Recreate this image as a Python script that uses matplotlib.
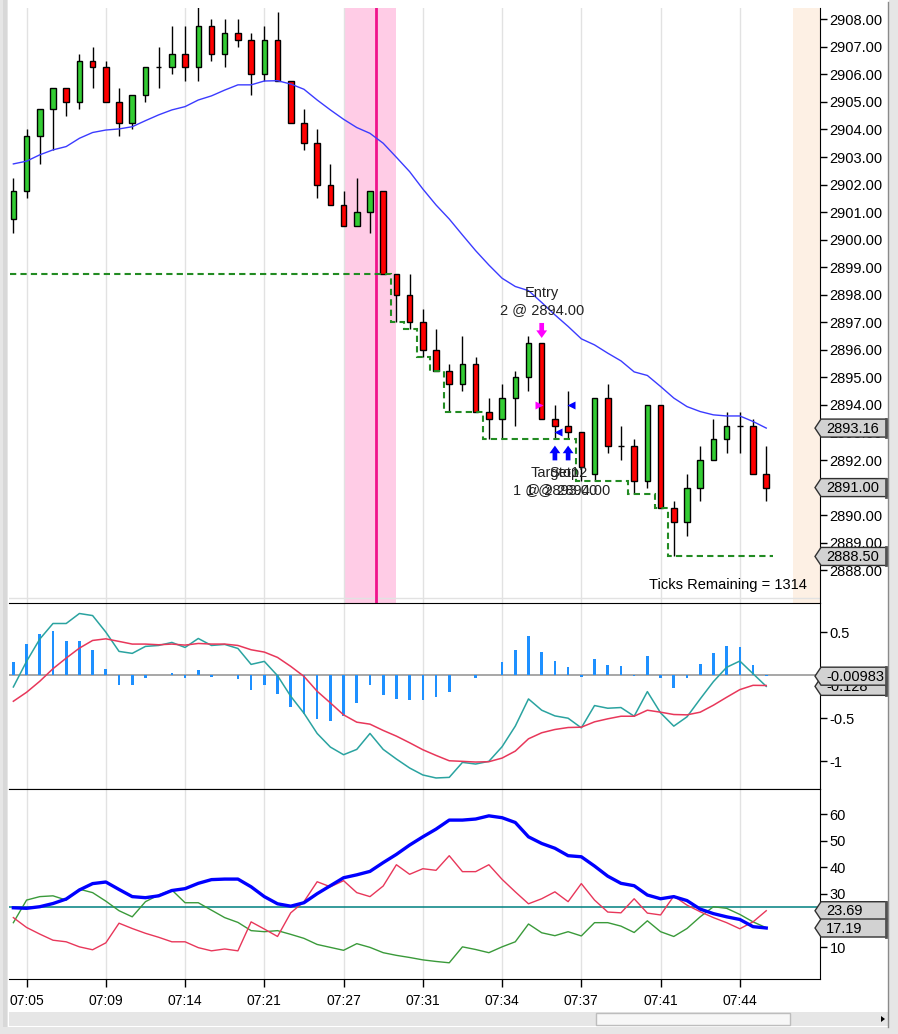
import numpy as np
import matplotlib
matplotlib.use("Agg")
import matplotlib.pyplot as plt
from matplotlib.patches import Rectangle, Polygon
import matplotlib.transforms as mtransforms

plt.rcParams['font.family'] = ['Liberation Sans', 'DejaVu Sans']

# ---------------- data ----------------
opens = [2900.75, 2901.75, 2903.75, 2904.75, 2905.5, 2905.0, 2906.5, 2906.25, 2905.0, 2904.25,
         2905.25, 2906.25, 2906.25, 2906.75, 2906.25, 2907.75, 2906.75, 2907.5, 2907.25, 2906.0,
         2907.25, 2905.75, 2904.25, 2903.5, 2902.0, 2901.25, 2900.5, 2901.0, 2901.75, 2898.75,
         2898.0, 2897.0, 2896.0, 2895.25, 2894.75, 2895.5, 2893.75, 2893.5, 2894.25, 2895.0,
         2896.25, 2893.5, 2893.25, 2893.0, 2891.5, 2894.25, 2892.5, 2892.5, 2891.25, 2894.0,
         2890.25, 2889.75, 2891.0, 2892.0, 2892.75, 2893.25, 2893.25, 2891.5]
highs = [2902.25, 2904.0, 2904.75, 2905.5, 2905.5, 2906.75, 2907.0, 2906.5, 2905.5, 2905.25,
         2906.25, 2907.0, 2907.75, 2907.75, 2908.5, 2908.0, 2908.0, 2908.0, 2907.5, 2907.75,
         2908.25, 2905.75, 2904.75, 2904.0, 2902.75, 2901.75, 2902.25, 2901.75, 2901.75, 2898.75,
         2898.75, 2897.5, 2896.75, 2895.5, 2896.5, 2895.75, 2894.25, 2894.75, 2895.25, 2896.5,
         2896.25, 2894.0, 2894.5, 2893.0, 2894.25, 2894.75, 2893.25, 2892.75, 2894.0, 2894.0,
         2890.5, 2891.5, 2892.5, 2893.5, 2893.75, 2893.75, 2893.5, 2892.5]
lows = [2900.25, 2901.5, 2902.75, 2903.25, 2904.5, 2904.75, 2905.5, 2905.0, 2903.75, 2904.0,
        2905.0, 2905.5, 2906.0, 2905.75, 2905.75, 2906.5, 2906.25, 2907.0, 2905.25, 2905.75,
        2905.75, 2904.25, 2903.25, 2901.5, 2901.25, 2900.5, 2900.5, 2900.25, 2898.75, 2897.0,
        2896.75, 2895.75, 2895.25, 2893.75, 2894.5, 2893.75, 2892.75, 2892.75, 2893.25, 2894.5,
        2893.5, 2892.75, 2892.75, 2891.25, 2891.25, 2892.25, 2892.0, 2890.75, 2891.0, 2890.25,
        2888.5, 2889.25, 2890.5, 2892.0, 2892.25, 2892.25, 2891.5, 2890.5]
closes = [2901.75, 2903.75, 2904.75, 2905.5, 2905.0, 2906.5, 2906.25, 2905.0, 2904.25, 2905.25,
          2906.25, 2906.25, 2906.75, 2906.25, 2907.75, 2906.75, 2907.5, 2907.25, 2906.0, 2907.25,
          2905.75, 2904.25, 2903.5, 2902.0, 2901.25, 2900.5, 2901.0, 2901.75, 2898.75, 2898.0,
          2897.0, 2896.0, 2895.25, 2894.75, 2895.5, 2893.75, 2893.5, 2894.25, 2895.0, 2896.25,
          2893.5, 2893.25, 2893.0, 2891.75, 2894.25, 2892.5, 2892.5, 2891.25, 2894.0, 2890.25,
          2889.75, 2891.0, 2892.0, 2892.75, 2893.25, 2893.25, 2891.5, 2891.0]
ema = [2902.75, 2902.85, 2903.08, 2903.26, 2903.38, 2903.68, 2903.89, 2903.98, 2904.02, 2904.10,
       2904.32, 2904.53, 2904.71, 2904.83, 2905.07, 2905.22, 2905.43, 2905.62, 2905.62, 2905.76,
       2905.77, 2905.65, 2905.46, 2905.07, 2904.71, 2904.37, 2904.07, 2903.86, 2903.50, 2902.99,
       2902.47, 2901.84, 2901.26, 2900.75, 2900.17, 2899.60, 2899.08, 2898.60, 2898.30, 2898.15,
       2897.72, 2897.27, 2896.85, 2896.40, 2896.18, 2895.88, 2895.60, 2895.20, 2895.07, 2894.67,
       2894.25, 2893.94, 2893.76, 2893.64, 2893.60, 2893.60, 2893.40, 2893.16]
stop = [2898.75] * 29 + [2897.0, 2896.75, 2895.75, 2895.25] + [2893.75] * 3 + [2892.75] * 7 + \
       [2891.25] * 4 + [2890.75] * 2 + [2890.25] + [2888.5] * 8

macd = [-0.135, 0.162, 0.421, 0.602, 0.602, 0.718, 0.694, 0.502, 0.278, 0.255, 0.336, 0.347, 0.382,
        0.324, 0.428, 0.347, 0.359, 0.312, 0.127, 0.162, -0.004, -0.243, -0.44, -0.675, -0.833,
        -0.922, -0.860, -0.675, -0.860, -0.972, -1.076, -1.157, -1.192, -1.185, -1.011, -1.03,
        -0.999, -0.829, -0.590, -0.274, -0.405, -0.471, -0.498, -0.610, -0.351, -0.382, -0.374,
        -0.475, -0.189, -0.436, -0.590, -0.482, -0.274, -0.073, 0.093, 0.166, 0.019, -0.128]
signal = [-0.301, -0.197, -0.069, 0.077, 0.200, 0.316, 0.405, 0.424, 0.394, 0.363, 0.363, 0.355,
          0.363, 0.351, 0.370, 0.363, 0.363, 0.347, 0.297, 0.270, 0.208, 0.104, -0.012, -0.185,
          -0.320, -0.459, -0.544, -0.567, -0.640, -0.706, -0.783, -0.864, -0.930, -0.992, -0.999,
          -1.007, -1.003, -0.961, -0.880, -0.737, -0.667, -0.629, -0.606, -0.602, -0.540, -0.505,
          -0.475, -0.475, -0.405, -0.428, -0.455, -0.459, -0.428, -0.347, -0.255, -0.166, -0.116,
          -0.118]
hist = [0.158, 0.367, 0.482, 0.517, 0.401, 0.401, 0.297, 0.077, -0.108, -0.108, -0.027, 0.005,
        0.031, -0.027, 0.066, -0.015, 0.0, -0.039, -0.174, -0.108, -0.212, -0.363, -0.444, -0.509,
        -0.525, -0.478, -0.316, -0.108, -0.224, -0.270, -0.282, -0.282, -0.247, -0.189, 0.0,
        -0.027, 0.003, 0.150, 0.297, 0.459, 0.266, 0.162, 0.100, -0.015, 0.193, 0.123, 0.112,
        -0.004, 0.228, -0.027, -0.143, -0.027, 0.135, 0.262, 0.343, 0.332, 0.123, -0.00983]
macd_label = -0.128

adx = [24.8, 24.6, 25.2, 26.4, 28.1, 31.5, 33.9, 34.5, 31.7, 29.0, 28.6, 29.3, 31.3, 32.0, 34.0,
       35.4, 35.6, 35.6, 32.7, 29.0, 26.3, 25.4, 26.7, 30.1, 33.1, 36.1, 37.2, 38.5, 41.8, 44.9,
       48.4, 51.5, 54.4, 57.8, 57.8, 58.2, 59.4, 58.7, 56.9, 51.5, 49.0, 47.2, 44.4, 44.0, 40.5,
       36.7, 34.0, 33.1, 29.6, 28.2, 29.0, 27.5, 24.3, 22.6, 21.4, 20.4, 17.7, 17.19]
di_minus = [21.1, 17.4, 14.9, 12.6, 12.0, 10.1, 9.0, 11.6, 19.0, 17.0, 15.2, 13.7, 12.0, 12.0, 9.8,
            8.6, 9.3, 8.6, 19.5, 16.8, 14.0, 22.9, 27.1, 34.6, 32.7, 35.0, 30.5, 29.0, 33.0, 41.0,
            37.4, 39.5, 38.9, 44.4, 38.4, 38.4, 41.0, 35.5, 30.8, 26.3, 28.2, 30.8, 27.1, 33.9, 27.7,
            23.2, 22.9, 28.2, 22.8, 22.1, 29.2, 25.8, 23.3, 21.1, 19.2, 16.9, 19.5, 23.69]
di_plus = [19.2, 27.7, 29.0, 29.3, 27.7, 31.8, 30.5, 27.3, 23.7, 21.4, 27.1, 29.6, 31.5, 26.7, 26.7,
           23.9, 21.1, 19.3, 16.2, 15.8, 16.2, 14.8, 13.3, 11.0, 9.9, 8.8, 11.3, 9.9, 7.9, 6.9,
           6.1, 5.2, 4.6, 4.1, 10.1, 9.1, 7.9, 10.1, 12.0, 18.7, 15.4, 14.3, 15.8, 14.2, 19.2,
           19.2, 17.9, 15.5, 19.9, 15.8, 14.0, 17.0, 21.4, 25.2, 24.6, 22.3, 19.5, 17.3]
adx_level = 25

tick_bars = [1, 7, 13, 19, 25, 31, 37, 43, 49, 55]
tick_labels = ['07:05', '07:09', '07:14', '07:21', '07:27', '07:31', '07:34', '07:37', '07:41', '07:44']

entry_bar, entry_price, entry_qty = 40, 2894.00, 2
exit_bars = [41, 42]
exit_prices = [2893.00, 2894.00]
exit_names = ['Target1', 'Stop2']
exit_qty = [1, 1]
ticks_remaining = 1314
session_band = (25.0, 29.0)
session_line = 27.45
future_start = 59.0

# ---------------- figure ----------------
W, H, DPI = 898, 1034, 100
fig = plt.figure(figsize=(W / DPI, H / DPI), dpi=DPI, facecolor='white')


def rect(x0, y0, x1, y1):
    return [x0 / W, 1 - y1 / H, (x1 - x0) / W, (y1 - y0) / H]


XL, XR = 9, 820
ax1 = fig.add_axes(rect(XL, 8, XR, 603))
ax2 = fig.add_axes(rect(XL, 603, XR, 789), sharex=ax1)
ax3 = fig.add_axes(rect(XL, 789, XR, 979), sharex=ax1)

x = np.arange(len(closes))
o = np.array(opens); h = np.array(highs); l = np.array(lows); c = np.array(closes)

GRID = '#E2E2E2'
FS = 10.5

for ax in (ax1, ax2, ax3):
    ax.set_facecolor('white')
    ax.yaxis.tick_right()
    ax.spines['left'].set_visible(False)
    ax.spines['right'].set_color('black')
    ax.tick_params(axis='y', which='major', direction='out', length=5, width=1,
                   labelsize=FS, pad=2, colors='black')
    ax.tick_params(axis='y', which='minor', length=0)
    ax.set_xticks(tick_bars)
    ax.grid(axis='x', color=GRID, lw=1, zorder=0)
    ax.grid(axis='y', which='minor', color=GRID, lw=1, zorder=0)
    ax.set_axisbelow(True)

ax1.set_xlim(-0.33, 61.07)

# ---- price panel ----
ax1.spines['top'].set_visible(False)
ax1.spines['bottom'].set_visible(False)
ax1.set_ylim(2886.81, 2908.41)
ax1.set_yticks(np.arange(2888, 2909, 1))
ax1.set_yticklabels([f'{v:.2f}' for v in np.arange(2888, 2909, 1)])
ax1.set_yticks(np.arange(2887, 2909, 3), minor=True)
ax1.tick_params(axis='x', length=0, labelbottom=False)

ax1.axvspan(session_band[0], session_band[1], color='#FFCCE6', lw=0, zorder=0.5)
ax1.axvspan(future_start, 62, color='#FDF0E4', lw=0, zorder=0.5)
ax1.axvline(session_line, color='#F0148C', lw=2, zorder=1)

ax1.vlines(x, l, h, color='black', lw=1, zorder=3)
up = c >= o
body_bot = np.minimum(o, c)
body_h = np.abs(c - o)
ax1.bar(x, body_h, bottom=body_bot, width=0.42,
        color=np.where(up, '#33CC33', '#FF0000'), edgecolor='black', lw=1, zorder=4)

ax1.plot(x, ema, color='#3B3BFF', lw=1, zorder=5)

edges = np.r_[-0.25, x[:-1] + 0.57, x[-1] + 0.5]
ax1.stairs(stop, edges, baseline=None, color='#228B22', lw=1.5, ls=(0, (3, 2)), zorder=5)

ARROW = 'simple,head_length=0.42,head_width=0.6,tail_width=0.26'
# magenta down arrow above entry bar
ax1.annotate('', xy=(entry_bar, highs[entry_bar]), xycoords='data',
             xytext=(0, 20), textcoords='offset pixels',
             arrowprops=dict(arrowstyle=ARROW, mutation_scale=13,
                             color='#FF00FF', lw=0, shrinkA=0, shrinkB=3.6), zorder=7)
ax1.annotate('Entry', xy=(entry_bar, highs[entry_bar]), xytext=(0, 50), textcoords='offset pixels',
             ha='center', va='center', fontsize=FS, color='#222222', zorder=6)
ax1.annotate(f'{entry_qty} @ {entry_price:.2f}', xy=(entry_bar, highs[entry_bar]), xytext=(0, 33),
             textcoords='offset pixels', ha='center', va='center', fontsize=FS, color='#222222', zorder=6)
ax1.plot([entry_bar - 0.2], [entry_price], marker='>', color='#FF00FF', ms=6, mec='none', zorder=7)

for b, p, n, q in zip(exit_bars, exit_prices, exit_names, exit_qty):
    ax1.annotate('', xy=(b, lows[b]), xycoords='data',
                 xytext=(0, -21), textcoords='offset pixels',
                 arrowprops=dict(arrowstyle=ARROW, mutation_scale=13,
                                 color='#0000FF', lw=0, shrinkA=0, shrinkB=4.5), zorder=7)
    ax1.plot([b + 0.25], [p], marker='<', color='#0000FF', ms=6, mec='none', zorder=7)
    ax1.annotate(n, xy=(b, lows[b]), xytext=(0, -34), textcoords='offset pixels',
                 ha='center', va='center', fontsize=FS, color='#222222', zorder=6)
    ax1.annotate(f'{q} @ {p:.2f}', xy=(b, lows[b]), xytext=(0, -51), textcoords='offset pixels',
                 ha='center', va='center', fontsize=FS, color='#222222', zorder=6)

ax1.text(0.984, 0.030, f'Ticks Remaining = {ticks_remaining}', transform=ax1.transAxes,
         ha='right', va='center', fontsize=FS, color='black', zorder=6)

# ---- MACD panel ----
ax2.set_ylim(-1.32, 0.84)
ax2.set_yticks([0.5, 0, -0.5, -1])
ax2.set_yticklabels(['0.5', '0', '-0.5', '-1'])
ax2.set_yticks([0.5, -1], minor=True)
ax2.tick_params(axis='x', length=0, labelbottom=False)
ax2.spines['top'].set_color('black')
ax2.spines['bottom'].set_color('black')
ax2.axhline(0, color='#A0A0A0', lw=1.3, zorder=1)
ax2.bar(x, hist, width=0.2, color='#1E90FF', zorder=2)
ax2.plot(x, macd, color='#2AA3A0', lw=1.1, zorder=3)
ax2.plot(x, signal, color='#E8375A', lw=1.1, zorder=3)

# ---- ADX panel ----
ax3.set_ylim(-2.0, 69.5)
ax3.set_yticks([10, 20, 30, 40, 50, 60])
ax3.set_yticks([10, 40], minor=True)
ax3.spines['top'].set_color('black')
ax3.spines['bottom'].set_color('black')
ax3.axhline(adx_level, color='#008080', lw=1.1, zorder=1)
ax3.plot(x, di_plus, color='#3A9A3A', lw=1.0, zorder=2)
ax3.plot(x, di_minus, color='#E8375A', lw=1.0, zorder=2)
ax3.plot(x, adx, color='#0000FF', lw=2.4, zorder=3)
ax3.set_xticklabels(tick_labels)
ax3.tick_params(axis='x', direction='out', length=6, width=1, labelsize=10, pad=5, colors='black')


# ---- value boxes on the right axis ----
def value_box(ax, v, label, z):
    blend = mtransforms.blended_transform_factory(fig.transFigure, ax.transData)
    t = fig.dpi_scale_trans + mtransforms.ScaledTranslation(815 / W, v, blend)
    hh = 9 / DPI
    verts = [(0, 0), (6 / DPI, hh), (72 / DPI, hh), (72 / DPI, -hh), (6 / DPI, -hh)]
    poly = Polygon(verts, closed=True, transform=t, facecolor='#D2D2D2', edgecolor='#303030',
                   lw=1, clip_on=False, zorder=z)
    ax.add_artist(poly)
    ax.add_artist(plt.Line2D([71 / DPI, 71 / DPI], [-hh, hh], transform=t, color='#505050',
                             lw=2, clip_on=False, zorder=z + 0.05))
    ax.text(11 / DPI, -0.5 / DPI, label, transform=t, ha='left', va='center', fontsize=FS,
            color='black', clip_on=False, zorder=z + 0.1)


value_box(ax1, ema[-1], f'{ema[-1]:.2f}', 10)
value_box(ax1, closes[-1], f'{closes[-1]:.2f}', 10)
value_box(ax1, stop[-1], f'{stop[-1]:.2f}', 10)
value_box(ax2, macd_label, f'{macd_label:.3f}', 10)
value_box(ax2, hist[-1], f'{hist[-1]:.5f}', 11)
value_box(ax3, di_minus[-1], f'{di_minus[-1]:.2f}', 10)
value_box(ax3, adx[-1], f'{adx[-1]:.2f}', 11)

# ---- window chrome ----
def fig_rect(x0, y0, x1, y1, **kw):
    fig.add_artist(Rectangle((x0 / W, 1 - y1 / H), (x1 - x0) / W, (y1 - y0) / H,
                             transform=fig.transFigure, **kw))


fig_rect(0, 0, 8, H, facecolor='#E6E6E6', lw=0, zorder=0)
fig_rect(3, 0, 7, H, facecolor='#D8D8D8', lw=0, zorder=0)
fig_rect(889, 0, W, H, facecolor='#E6E6E6', lw=0, zorder=0)
fig_rect(0, 1027, W, H, facecolor='#E6E6E6', lw=0, zorder=0)
fig_rect(9, 1012, 888, 1026, facecolor='#E6E6E6', lw=0, zorder=1)
fig_rect(596, 1013, 790, 1025, facecolor='#F7F7F7', edgecolor='#BDBDBD', lw=1, zorder=2)
fig.add_artist(Polygon([(881 / W, 1 - 1016 / H), (881 / W, 1 - 1022 / H), (885 / W, 1 - 1019 / H)],
                       closed=True, transform=fig.transFigure, facecolor='black', lw=0, zorder=3))
fig.add_artist(plt.Line2D([888 / W, 888 / W], [1 - 1027 / H, 1 - 2 / H], transform=fig.transFigure,
                          color='#8A8A8A', lw=1, zorder=3))

fig.savefig('out.png', dpi=DPI, facecolor='white')
